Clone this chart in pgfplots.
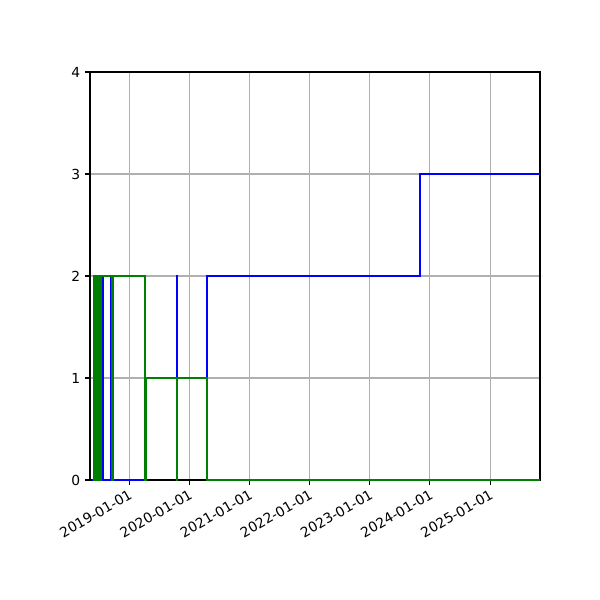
\documentclass[border=0pt]{standalone}
\usepackage{pgfplots}
\pgfplotsset{compat=1.18}
\usepackage{fontspec}
\setmainfont{DejaVu Sans}
\definecolor{mplblue}{rgb}{0,0,1}
\definecolor{mplgreen}{rgb}{0,0.5,0}
\definecolor{gridgray}{HTML}{B0B0B0}
\begin{document}
\begin{tikzpicture}
\begin{axis}[
    scale only axis,
    width=4.5in, height=4.08in,
    xmin=2018.35, xmax=2025.83,
    ymin=0, ymax=4,
    ytick={0,1,2,3,4},
    xtick={2019,2020,2021,2022,2023,2024,2025},
    xticklabels={2019-01-01,2020-01-01,2021-01-01,2022-01-01,2023-01-01,2024-01-01,2025-01-01},
    xticklabel style={rotate=30, anchor=north east, inner sep=2pt},
    tick label style={font=\fontsize{10}{12}\selectfont},
    /pgf/number format/assume math mode=true,
    tick align=outside,
    major tick length=3.5pt,
    tick style={black, line width=0.8pt},
    xtick pos=bottom, ytick pos=left,
    grid=major,
    major grid style={gridgray, line width=0.8pt},
    axis line style={black, line width=0.8pt},
    clip=true,
]
% blue series
\addplot[const plot mark left, mplblue, line width=1.5pt] coordinates {
    (2018.385,0) (2018.432,2) (2018.440,0) (2018.562,2) (2018.570,0)
    (2018.693,2) (2018.701,0) (2019.266,1) (2019.795,2) (2019.803,1)
    (2020.296,2) (2023.836,3) (2025.83,3)
};
% green series
\addplot[const plot mark left, mplgreen, line width=1.5pt] coordinates {
    (2018.400,0) (2018.410,2) (2018.420,0) (2018.428,2) (2018.438,0)
    (2018.446,2) (2018.456,0) (2018.464,2) (2018.474,0) (2018.482,2)
    (2018.492,0) (2018.500,2) (2018.510,0) (2018.518,2) (2018.528,0)
    (2018.536,2) (2018.715,0) (2018.737,2) (2019.266,0) (2019.282,1)
    (2019.795,0) (2019.803,1) (2020.296,0) (2025.83,0)
};
\end{axis}
\path[use as bounding box] (-0.9in,-1.2in) rectangle (5.1in,4.8in);
\end{tikzpicture}
\end{document}
